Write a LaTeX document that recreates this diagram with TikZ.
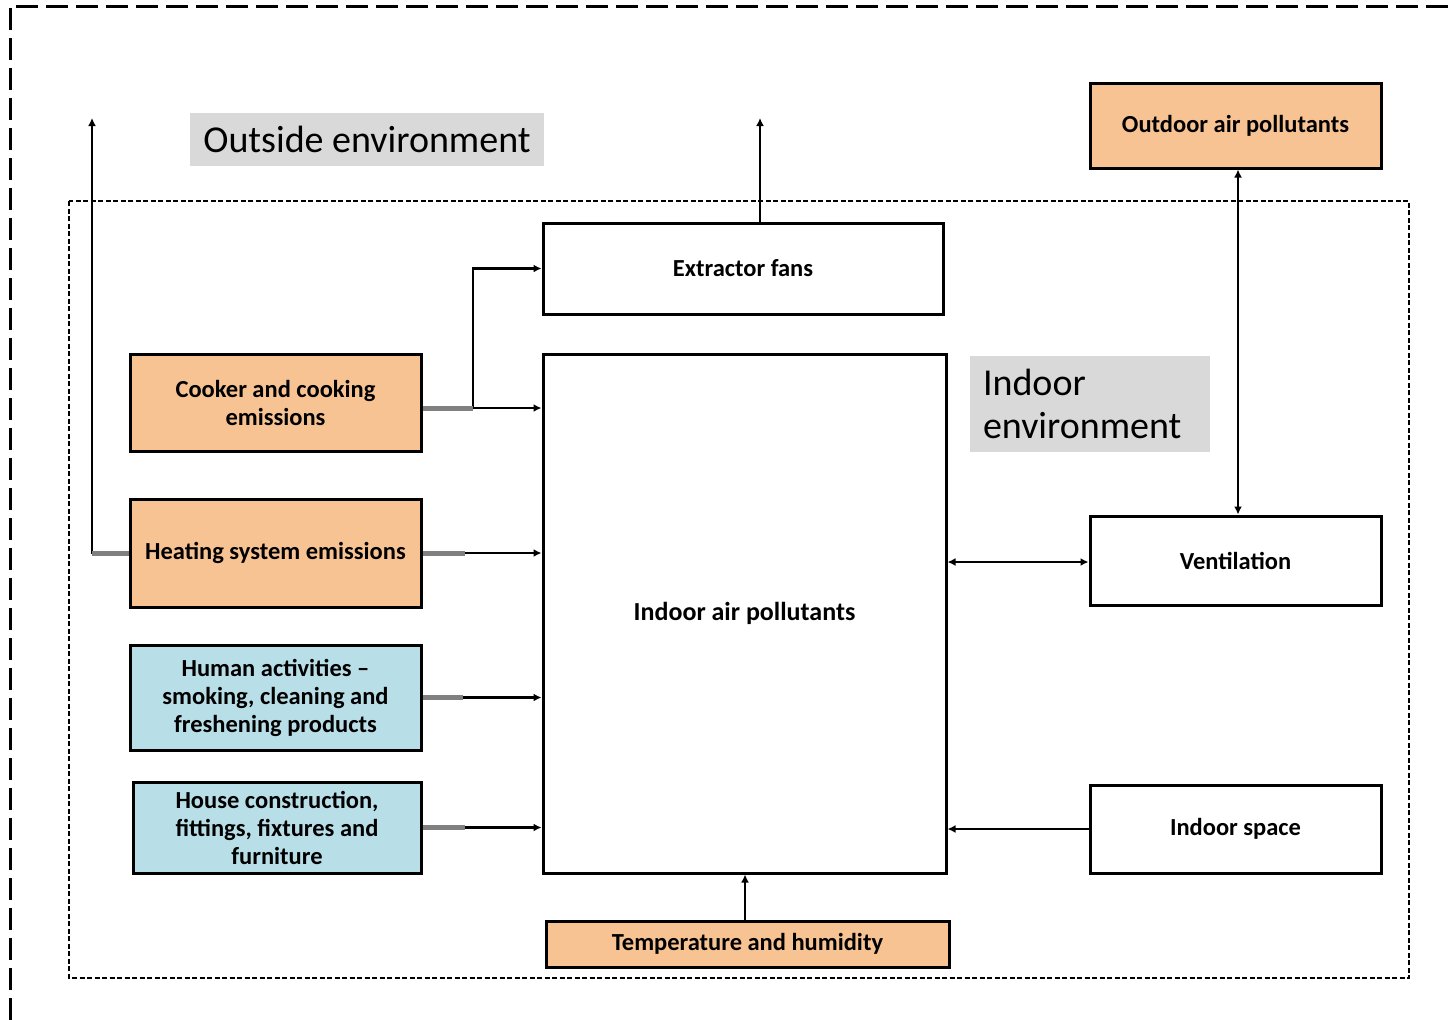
\documentclass[tikz,border=0pt]{standalone}
\usepackage{fontspec}
\setmainfont{Carlito}
\usepackage{tikz}
\usetikzlibrary{arrows.meta,calc}
\definecolor{srcorange}{RGB}{248,195,147}
\definecolor{srcblue}{RGB}{184,222,232}
\definecolor{envgray}{RGB}{217,217,217}
\tikzset{
	box/.style={draw=black,line width=3pt,inner sep=2pt,align=center,
		font=\fontsize{24.5}{28}\selectfont\bfseries},
	envlabel/.style={fill=envgray,inner sep=0pt,align=left,
		font=\fontsize{38}{43}\selectfont},
	arr/.style={line width=2.5pt,-{Latex[length=8pt,width=8pt]}},
	dblarr/.style={line width=2.5pt,{Latex[length=8pt,width=8pt]}-{Latex[length=8pt,width=8pt]}},
	stub/.style={line width=5pt,draw=black!50}
}

\begin{document}
\begin{tikzpicture}[x=1pt,y=-1pt]
	\useasboundingbox (0,0) rectangle (1452,1020);
	
	%Cadres
	\draw[line width=3pt,dash pattern=on 22pt off 8pt] (10,1020) -- (10,6) -- (1452,6);
	\draw[line width=2pt,dash pattern=on 5pt off 2.5pt] (69,201) rectangle (1409,978);
	
	%Etiquettes des environnements
	\node[envlabel,minimum width=354pt,minimum height=53pt,align=center] (outside) at (367,139.5) {Outside environment};
	\node[envlabel,minimum width=240pt,minimum height=96pt,text width=214pt] (indoorenv) at (1090,404) {Indoor\\environment};
	
	%Boites
	\node[box,fill=srcorange,minimum width=291pt,minimum height=85pt] (outdoor) at (1235.5,125.5) {Outdoor air pollutants};
	\node[box,fill=white,minimum width=400pt,minimum height=91pt] (fans) at (743,268.5) {Extractor fans};
	\node[box,fill=white,minimum width=403pt,minimum height=519pt,font=\fontsize{26}{30}\selectfont\bfseries] (indoor) at (744.5,613.5) {Indoor air pollutants};
	\node[box,fill=srcorange,minimum width=291pt,minimum height=97pt] (cook) at (275.5,402.5) {Cooker and cooking\\emissions};
	\node[box,fill=srcorange,minimum width=291pt,minimum height=108pt] (heat) at (275.5,553) {Heating system emissions};
	\node[box,fill=srcblue,minimum width=291pt,minimum height=105pt] (human) at (275.5,697.5) {Human activities --\\smoking, cleaning and\\freshening products};
	\node[box,fill=srcblue,minimum width=288pt,minimum height=91pt] (house) at (277,827.5) {House construction,\\fittings, fixtures and\\furniture};
	\node[box,fill=srcorange,minimum width=403pt,minimum height=46pt] (temp) at (747.5,944) {Temperature and humidity};
	\node[box,fill=white,minimum width=291pt,minimum height=89pt] (vent) at (1235.5,560.5) {Ventilation};
	\node[box,fill=white,minimum width=291pt,minimum height=88pt] (space) at (1235.5,829) {Indoor space};
	
	%Sorties vers l'exterieur
	\coordinate (outL) at (92,118);
	\coordinate (outT) at (760,118);
	\coordinate (split) at (473,408);
	\draw[arr] (heat.west) -| (outL);
	\draw[stub] (heat.west) -- (heat.west -| outL);
	\draw[arr] (outT |- fans.north) -- (outT);
	
	%Sources vers l'air interieur
	\draw[arr] ([yshift=-5.5pt]cook.east) -- ([yshift=-5.5pt]cook.east -| indoor.west);
	\draw[arr] (split) |- (fans.west);
	\draw[stub] ([yshift=-5.5pt]cook.east) -- (split);
	\foreach \src/\len in {heat/42,human/40,house/42}{
		\draw[arr] (\src.east) -- (\src.east -| indoor.west);
		\draw[stub] (\src.east) -- ++(\len,0);
	}
	
	%Cote droit
	\draw[dblarr] ([yshift=-1.5pt]vent.west) -- ([yshift=-1.5pt]vent.west -| indoor.east);
	\draw[arr] (space.west) -- (space.west -| indoor.east);
	\draw[arr] ([xshift=-2.5pt]temp.north) -- ([xshift=-2.5pt]temp.north |- indoor.south);
	\draw[dblarr] ([xshift=2.5pt]outdoor.south) -- ([xshift=2.5pt]vent.north);
	
\end{tikzpicture}
\end{document}
